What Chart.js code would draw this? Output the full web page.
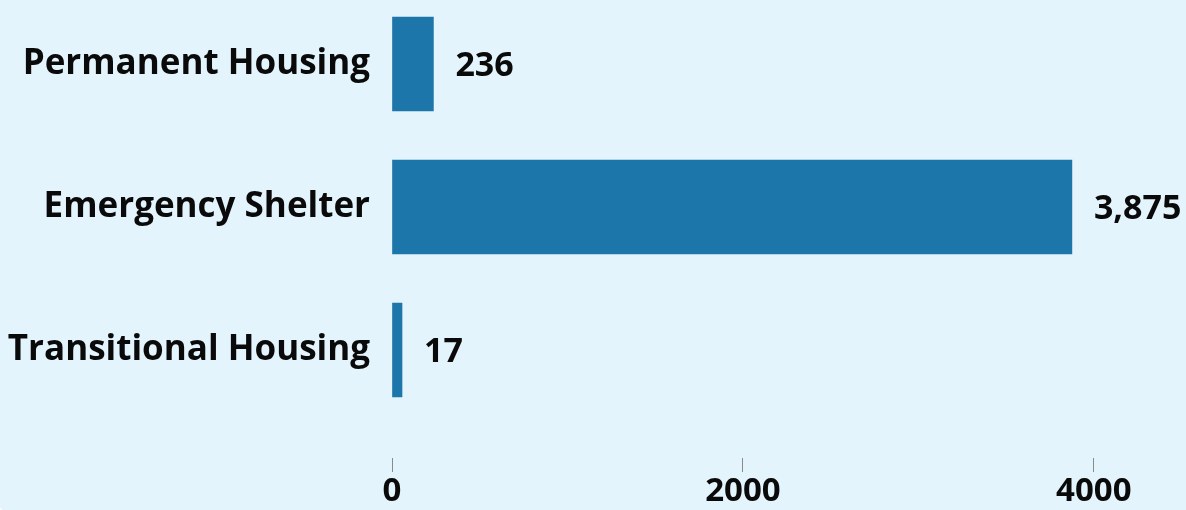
<!DOCTYPE html>
<html>
<head>
<meta charset="utf-8">
<script src="https://cdn.jsdelivr.net/npm/chart.js@4/dist/chart.umd.min.js"></script>
<style>
  html, body { margin: 0; padding: 0; background: #ffffff; }
  #wrap { width: 1186px; height: 510px; background: #e3f4fd; border-radius: 0 0 0 4px; position: relative; }
</style>
</head>
<body>
<div id="wrap"><canvas id="c"></canvas></div>
<script>
const categories = ["Permanent Housing", "Emergency Shelter", "Transitional Housing"];
const values = [236, 3875, 17];
const xTicks = [0, 2000, 4000];

const FONT = "'Open Sans', 'Noto Sans', sans-serif";

const valueLabels = {
  id: 'valueLabels',
  afterDatasetsDraw(chart) {
    const ctx = chart.ctx;
    const meta = chart.getDatasetMeta(0);
    ctx.save();
    ctx.font = "bold 34px " + FONT;
    ctx.fillStyle = '#0a0a0a';
    ctx.textAlign = 'left';
    ctx.textBaseline = 'middle';
    meta.data.forEach((bar, i) => {
      ctx.fillText(values[i].toLocaleString('en-US'), bar.x + 22, bar.y + 2);
    });
    ctx.restore();
  }
};

new Chart(document.getElementById('c'), {
  type: 'bar',
  data: {
    datasets: [{
      data: values.map((v, i) => ({ x: v, y: i })),
      backgroundColor: '#1d76a9',
      borderWidth: 0,
      barThickness: 94,
      minBarLength: 10
    }]
  },
  options: {
    indexAxis: 'y',
    responsive: true,
    maintainAspectRatio: false,
    animation: false,
    layout: { padding: { left: 0, right: 22, top: 0, bottom: 0 } },
    plugins: { legend: { display: false }, tooltip: { enabled: false } },
    scales: {
      y: {
        type: 'linear',
        reverse: true,
        offset: false,
        min: -0.4476,
        max: 2.7552,
        afterFit(s) { s.width = 392; s.paddingTop = 0; s.paddingBottom = 0; },
        grid: { display: false, drawTicks: false },
        border: { display: false },
        ticks: {
          stepSize: 1,
          includeBounds: false,
          padding: 22,
          color: '#0a0a0a',
          font: { family: FONT, size: 35, weight: 'bold' },
          callback: (v) => (Number.isInteger(v) && categories[v] !== undefined) ? categories[v] : ''
        }
      },
      x: {
        type: 'linear',
        min: 0,
        max: 4400,
        afterFit(s) { s.height = 52; },
        afterBuildTicks(s) { s.ticks = xTicks.map(v => ({ value: v })); },
        grid: { drawOnChartArea: false, drawTicks: true, tickLength: 14, tickColor: '#8a8a8a', tickWidth: 1 },
        border: { display: false },
        ticks: {
          padding: 0,
          maxRotation: 0,
          color: '#0a0a0a',
          font: { family: FONT, size: 33, weight: 'bold' },
          callback: (v) => String(v)
        }
      }
    }
  },
  plugins: [valueLabels]
});
</script>
</body>
</html>
